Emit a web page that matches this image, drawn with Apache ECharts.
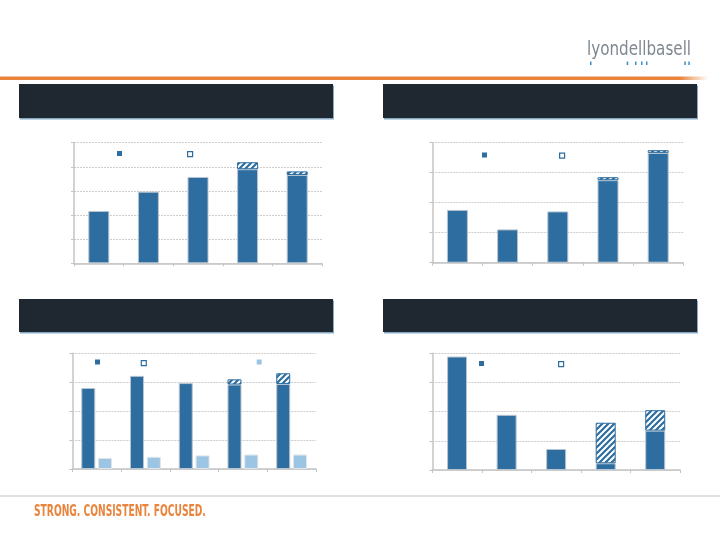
<!DOCTYPE html>
<html><head><meta charset="utf-8">
<script src="https://cdn.jsdelivr.net/npm/echarts@6/dist/echarts.min.js"></script>
<style>html,body{margin:0;padding:0;background:#fff}#c{width:720px;height:540px}</style>
</head><body><div id="c"></div>
<script>
// ---- data ----
const categories = ['1', '2', '3', '4', '5'];
const p1Base  = [2.17, 2.97, 3.58, 3.90, 3.66];
const p1Hatch = [0, 0, 0, 0.29, 0.15];
const p2Base  = [1.76, 1.11, 1.71, 2.75, 3.66];
const p2Hatch = [0, 0, 0, 0.10, 0.09];
const p3Base  = [2.80, 3.22, 2.97, 2.92, 2.94];
const p3Hatch = [0, 0, 0, 0.18, 0.37];
const p3Light = [0.38, 0.42, 0.47, 0.50, 0.50];
const p4Base  = [3.89, 1.89, 0.72, 0.23, 1.35];
const p4Hatch = [0, 0, 0, 1.39, 0.70];
const yMax = [5, 4, 4, 4];
const logoText = 'lyondellbasell';
const tagline = 'STRONG. CONSISTENT. FOCUSED.';

// ---- style ----
const BLUE = '#2d6d9f', LIGHT = '#9cc4e3', ORANGE = '#e8843c', DARK = '#1f2730';
function hatch() {
  const s = 6, c = document.createElement('canvas');
  c.width = c.height = s;
  const g = c.getContext('2d');
  g.fillStyle = '#fff'; g.fillRect(0, 0, s, s);
  g.strokeStyle = BLUE; g.lineWidth = 2.2; g.beginPath();
  g.moveTo(0, s); g.lineTo(s, 0);
  g.moveTo(-s / 2, s / 2); g.lineTo(s / 2, -s / 2);
  g.moveTo(s / 2, s * 1.5); g.lineTo(s * 1.5, s / 2);
  g.stroke();
  return c;
}
const HATCH = { image: hatch(), repeat: 'repeat' };
const nz = a => a.map(v => (v === 0 ? '-' : v));

const grids = [
  { left: 74, top: 142.7, width: 248, height: 120.6 },
  { left: 432.3, top: 142.7, width: 251, height: 120 },
  { left: 72.3, top: 353.3, width: 243.7, height: 115.7 },
  { left: 432.3, top: 353.3, width: 247.7, height: 116.7 }
];
const xAxes = grids.map((g, i) => ({
  type: 'category', gridIndex: i, data: categories,
  axisLine: { lineStyle: { color: '#c4c4c4', width: 1.5 } },
  axisTick: { show: true, length: 3, lineStyle: { color: '#c4c4c4' } },
  axisLabel: { show: false }
}));
const yAxes = grids.map((g, i) => ({
  type: 'value', gridIndex: i, min: 0, max: yMax[i], interval: 1,
  axisLine: { show: true, lineStyle: { color: '#c4c4c4', width: 1.5 } },
  axisTick: { show: true, length: 3, lineStyle: { color: '#c4c4c4' } },
  axisLabel: { show: false },
  splitLine: { lineStyle: { color: '#cdcdcd', type: [2, 1] } }
}));
const solidStyle = { color: BLUE, borderColor: '#b9c5d1', borderWidth: 1 };
const hatchStyle = { color: HATCH, borderColor: BLUE, borderWidth: 1 };
const lightStyle = { color: LIGHT, borderColor: '#dfe6ec', borderWidth: 1 };
function bar(name, gi, data, style, stack, w) {
  return { name, type: 'bar', xAxisIndex: gi, yAxisIndex: gi, data, stack,
    barWidth: w, barGap: '20%', itemStyle: style, animation: false, silent: true };
}
const series = [
  bar('s1', 0, p1Base, solidStyle, 'a', 21),
  bar('h1', 0, nz(p1Hatch), hatchStyle, 'a', 21),
  bar('s2', 1, p2Base, solidStyle, 'b', 21),
  bar('h2', 1, nz(p2Hatch), hatchStyle, 'b', 21),
  bar('s3', 2, p3Base, solidStyle, 'c', 14),
  bar('h3', 2, nz(p3Hatch), hatchStyle, 'c', 14),
  bar('l3', 2, p3Light, lightStyle, undefined, 14),
  bar('s4', 3, p4Base, solidStyle, 'd', 20),
  bar('h4', 3, nz(p4Hatch), hatchStyle, 'd', 20)
];
const legSolid = { color: BLUE, borderColor: BLUE, borderWidth: 0 };
const legHatch = { color: '#ffffff', borderColor: BLUE, borderWidth: 1.2 };
const legLight = { color: LIGHT, borderColor: LIGHT, borderWidth: 0 };
function leg(name, x, y, st) {
  return { data: [{ name, itemStyle: st }], left: x, top: y, padding: 0, itemWidth: 5, itemHeight: 5,
    icon: 'rect', selectedMode: false, formatter: () => '', textStyle: { fontSize: 1 } };
}
const legends = [
  leg('s1', 117, 151, legSolid), leg('h1', 187, 151, legHatch),
  leg('s2', 482, 152.5, legSolid), leg('h2', 559, 152.5, legHatch),
  leg('s3', 95, 359.5, legSolid), leg('h3', 140.7, 360, legHatch), leg('l3', 256.7, 359.5, legLight),
  leg('s4', 479, 361, legSolid), leg('h4', 558, 361, legHatch)
];
const boxes = [[19, 84, 314, 34], [383, 84, 314, 34], [19, 299, 314, 33], [383, 299, 314, 33]];
const ticks = [590, 626.7, 635, 641, 646, 684.3, 688.3];
const graphic = [
  { type: 'rect', shape: { x: 0, y: 76.5, width: 708, height: 3.5 }, silent: true,
    style: { fill: { type: 'linear', x: 0, y: 0, x2: 1, y2: 0,
      colorStops: [{ offset: 0, color: ORANGE }, { offset: 0.96, color: ORANGE }, { offset: 1, color: 'rgba(232,132,60,0)' }] } } },
  { type: 'rect', shape: { x: 0, y: 495.5, width: 720, height: 1 }, silent: true, style: { fill: '#c4c4c4' } },
  { type: 'text', x: 34, y: 505, scaleX: 0.678, silent: true,
    style: { text: tagline, fill: ORANGE, font: 'bold 15px "Liberation Sans Narrow", "DejaVu Sans Condensed", sans-serif' } },
  { type: 'text', x: 587, y: 40, scaleX: 0.843, silent: true,
    style: { text: logoText, fill: '#7f8790', font: '20px "Liberation Sans Narrow", "DejaVu Sans Condensed", sans-serif' } }
].concat(boxes.map(b => ({ type: 'rect', shape: { x: b[0], y: b[1], width: b[2], height: b[3] }, silent: true,
    style: { fill: DARK, shadowColor: 'rgba(120,160,190,0.9)', shadowOffsetX: 1, shadowOffsetY: 1.5, shadowBlur: 0 } })))
 .concat(ticks.map(x => ({ type: 'rect', shape: { x: x, y: 61.5, width: 1.5, height: 3.5 }, silent: true, style: { fill: '#3a8fc8' } })));

const chart = echarts.init(document.getElementById('c'), null, { renderer: 'canvas' });
chart.setOption({
  animation: false,
  grid: grids, xAxis: xAxes, yAxis: yAxes, series, legend: legends, graphic
});
</script></body></html>
